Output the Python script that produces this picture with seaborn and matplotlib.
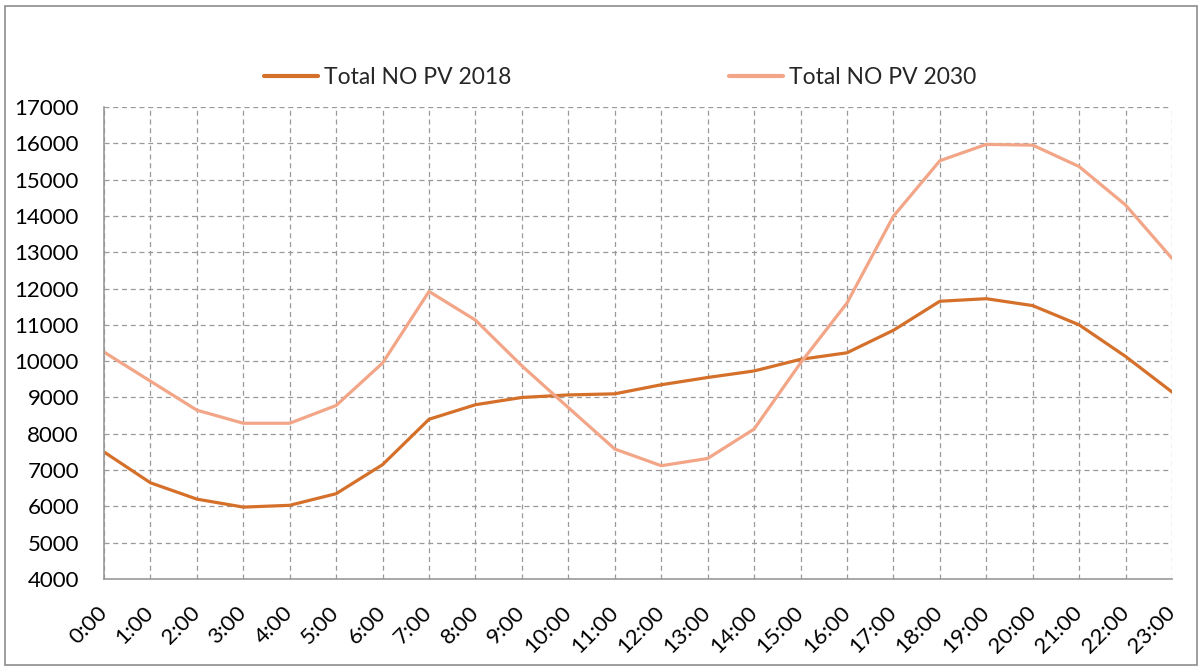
import matplotlib
matplotlib.use("Agg")
import matplotlib.pyplot as plt
import pandas as pd
import seaborn as sns
from matplotlib.patches import Rectangle

HOURS = [f"{h}:00" for h in range(24)]
TOTAL_2018 = [7500, 6650, 6200, 5980, 6030, 6350, 7150, 8400, 8800, 9000, 9070, 9100,
              9350, 9550, 9730, 10050, 10230, 10850, 11650, 11720, 11530, 11000, 10130, 9150]
TOTAL_2030 = [10250, 9450, 8650, 8290, 8290, 8780, 9950, 11920, 11130, 9870, 8720, 7580,
              7120, 7320, 8130, 9950, 11600, 13990, 15520, 15970, 15950, 15360, 14300, 12830]
SERIES = ["Total NO PV 2018", "Total NO PV 2030"]
COLORS = ["#D5702B", "#F2A687"]

df = pd.DataFrame({
    "hour": list(range(24)) * 2,
    "value": TOTAL_2018 + TOTAL_2030,
    "series": [SERIES[0]] * 24 + [SERIES[1]] * 24,
})

sns.set_theme(style="white")
plt.rcParams["font.family"] = ["Lato", "DejaVu Sans"]

fig = plt.figure(figsize=(12.04, 6.7), dpi=100)
ax = fig.add_axes([104 / 1204, 1 - 579 / 670, (1172 - 104) / 1204, (579 - 107) / 670])

sns.lineplot(data=df, x="hour", y="value", hue="series", palette=COLORS,
             linewidth=2.3, ax=ax, legend=False)

ax.set_xlim(0, 23)
ax.set_ylim(4000, 17000)
ax.set_yticks(range(4000, 17001, 1000))
ax.set_xticks(range(24))
ax.set_xticklabels(HOURS, rotation=45, ha="right", va="center", rotation_mode="anchor")
ax.tick_params(axis="both", labelsize=16, colors="#999999", labelcolor="black",
               width=1.2, direction="out")
ax.tick_params(axis="y", length=5, pad=13)
ax.tick_params(axis="x", length=6, pad=16)
ax.set_xlabel("")
ax.set_ylabel("")
ax.grid(True, linestyle=(0, (4, 3)), color="#999999", linewidth=0.9)
ax.set_axisbelow(True)
for side in ["top", "right"]:
    ax.spines[side].set_visible(False)
for side in ["left", "bottom"]:
    ax.spines[side].set_color("#999999")
    ax.spines[side].set_linewidth(1.2)

handles = [plt.Line2D([], [], color=c, linewidth=3) for c in COLORS]
fig.legend(handles, SERIES, loc="center", bbox_to_anchor=(620 / 1204, 1 - 78 / 670),
           ncol=2, frameon=False, fontsize=16.5, handlelength=2.35,
           handletextpad=0.26, columnspacing=9.5)

fig.patches.append(Rectangle((5 / 1204, 5 / 670), 1192 / 1204, 659 / 670,
                             transform=fig.transFigure, fill=False,
                             edgecolor="#8c8c8c", linewidth=1.2))

fig.savefig("out.png", dpi=100)
